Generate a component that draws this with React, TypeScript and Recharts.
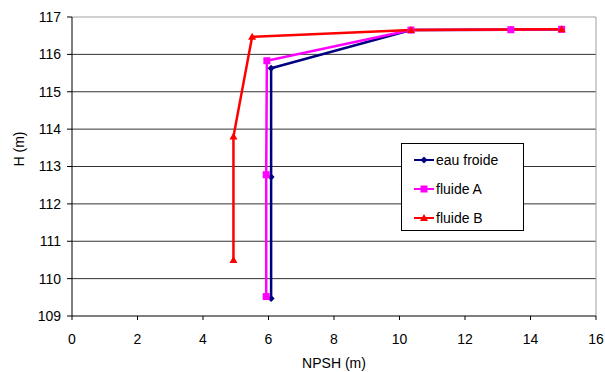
import React from 'react';
import { LineChart, Line, XAxis, YAxis, CartesianGrid, ReferenceLine } from 'recharts';

// NPSH (m) / H (m)
const eauNpsh = [6.08, 6.08, 6.08, 10.35, 13.4, 14.95];
const eauH = [109.47, 112.72, 115.63, 116.65, 116.66, 116.67];

const aNpsh = [5.93, 5.93, 5.95, 10.35, 13.4, 14.95];
const aH = [109.52, 112.78, 115.83, 116.65, 116.66, 116.67];

const bNpsh = [4.93, 4.93, 5.5, 10.35, 14.95];
const bH = [110.5, 113.8, 116.47, 116.65, 116.67];

const xTicks = [0, 2, 4, 6, 8, 10, 12, 14, 16];
const yTicks = [109, 110, 111, 112, 113, 114, 115, 116, 117];

const toPoints = (xs: number[], ys: number[]) => xs.map((x, i) => ({ npsh: x, h: ys[i] }));

const eauData = toPoints(eauNpsh, eauH);
const aData = toPoints(aNpsh, aH);
const bData = toPoints(bNpsh, bH);

const font = 'Liberation Sans, Arial, sans-serif';

const Diamond = (props: any) => {
  const { cx, cy, fill } = props;
  if (cx == null || cy == null) return null;
  return <path d={`M${cx},${cy - 3.5}L${cx + 3.5},${cy}L${cx},${cy + 3.5}L${cx - 3.5},${cy}Z`} fill={fill} />;
};

const Square = (props: any) => {
  const { cx, cy, fill } = props;
  if (cx == null || cy == null) return null;
  return <rect x={cx - 3.5} y={cy - 3.5} width={7} height={7} fill={fill} />;
};

const Triangle = (props: any) => {
  const { cx, cy, fill } = props;
  if (cx == null || cy == null) return null;
  return <path d={`M${cx},${cy - 4}L${cx + 4},${cy + 3}L${cx - 4},${cy + 3}Z`} fill={fill} />;
};

const series = [
  { name: 'eau froide', color: '#000080', data: eauData, Marker: Diamond },
  { name: 'fluide A', color: '#FF00FF', data: aData, Marker: Square },
  { name: 'fluide B', color: '#FF0000', data: bData, Marker: Triangle },
];

const LegendBox = () => (
  <div
    style={{
      position: 'absolute',
      left: 401,
      top: 143,
      width: 123,
      height: 88,
      border: '1px solid #000',
      background: '#fff',
      boxSizing: 'border-box',
      padding: '1px 0 0 12px',
      fontFamily: font,
      fontSize: 14,
      color: '#000',
    }}
  >
    {series.map((s) => {
      const M = s.Marker;
      return (
        <div key={s.name} style={{ display: 'flex', alignItems: 'center', height: 29 }}>
          <svg width={20} height={10} style={{ marginRight: 2 }}>
            <line x1={0} y1={5} x2={20} y2={5} stroke={s.color} strokeWidth={2} />
            <M cx={10} cy={5} fill={s.color} />
          </svg>
          <span>{s.name}</span>
        </div>
      );
    })}
  </div>
);

export default function App() {
  return (
    <div style={{ position: 'absolute', left: 0, top: 0, width: 605, height: 372, background: '#fff' }}>
      <LineChart width={605} height={372} margin={{ top: 17, right: 9, bottom: 0, left: 0 }}>
        <CartesianGrid vertical={false} stroke="#333" horizontalValues={[110, 111, 112, 113, 114, 115, 116]} />
        <ReferenceLine y={117} stroke="#a0a0a0" />
        <ReferenceLine x={16} stroke="#a0a0a0" />
        <XAxis
          dataKey="npsh"
          type="number"
          domain={[0, 16]}
          ticks={xTicks}
          allowDuplicatedCategory={false}
          height={56}
          tickSize={4}
          tickMargin={14}
          stroke="#000"
          tick={{ fill: '#000', fontSize: 14, fontFamily: font }}
          label={{ value: 'NPSH (m)', position: 'insideBottom', offset: 4, fill: '#000', fontSize: 14, fontFamily: font }}
        />
        <YAxis
          dataKey="h"
          type="number"
          domain={[109, 117]}
          ticks={yTicks}
          width={72}
          tickSize={5}
          tickMargin={6}
          stroke="#000"
          tick={{ fill: '#000', fontSize: 14, fontFamily: font }}
          label={{ value: 'H (m)', angle: -90, position: 'insideLeft', offset: 19, fill: '#000', fontSize: 14, fontFamily: font }}
        />
        {series.map((s) => {
          const M = s.Marker;
          return (
            <Line
              key={s.name}
              name={s.name}
              data={s.data}
              dataKey="h"
              type="linear"
              stroke={s.color}
              strokeWidth={2.5}
              dot={(p: any) => <M key={`${s.name}-${p.index}`} cx={p.cx} cy={p.cy} fill={s.color} />}
              activeDot={false}
              isAnimationActive={false}
            />
          );
        })}
      </LineChart>
      <LegendBox />
    </div>
  );
}
